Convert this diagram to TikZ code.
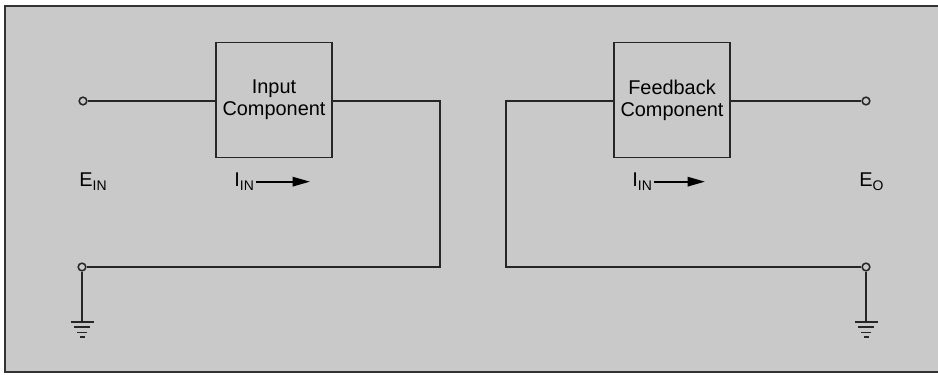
\documentclass[tikz,border=0pt]{standalone}
\usepackage{fontspec}
\setmainfont{Liberation Sans}
\usetikzlibrary{positioning,arrows.meta}
\definecolor{panel}{gray}{0.79}
\tikzset{
  wire/.style={line width=1.6pt, draw=black!85},
  component/.style={rectangle, draw=black!85, line width=1.6pt, minimum width=3.48cm, minimum height=3.45cm,
                    align=center, font=\fontsize{17}{19}\selectfont},
  terminal/.style={circle, draw=black!85, line width=1.3pt, fill=panel, minimum size=2.3mm, inner sep=0pt},
  txt/.style={font=\fontsize{17}{19}\selectfont, inner sep=1pt},
  current/.style={->, line width=1.6pt, >={Triangle[length=5.2mm, width=2.8mm]}},
}

\begin{document}
\begin{tikzpicture}[x=0.03cm, y=-0.03cm]
  \useasboundingbox (0,0) rectangle (938,375);
  \draw[line width=2pt, draw=black!80, fill=panel] (5,6) rectangle (948,372);

  % input side
  \node[component] (inbox) at (274,100) {Input\\Component};
  \node[terminal] (ein) at (83,101) {};
  \node[terminal] (ingnd) at (82,267) {};
  \coordinate (inturn) at (440,267);
  \node[txt, anchor=base west] (einlab) at (78,187) {E\textsubscript{IN}};
  \node[txt, anchor=base west] (iinlab) at (233,187) {I\textsubscript{IN}};
  \coordinate (iinend) at (310,183);

  % feedback side
  \node[component] (fbbox) at (672,100) {Feedback\\Component};
  \node[terminal] (eo) at (866,101) {};
  \node[terminal] (outgnd) at (866,267) {};
  \coordinate (fbturn) at (506,267);
  \node[txt, anchor=base west] (eolab) at (858,187) {E\textsubscript{O}};
  \node[txt, anchor=base west] (ifblab) at (631,187) {I\textsubscript{IN}};
  \coordinate (ifbend) at (705,183);

  \draw[wire] (ein) -- (ein -| inbox.west);
  \draw[wire] (ein -| inbox.east) -| (inturn) -- (ingnd);
  \draw[wire] (eo -| fbbox.west) -| (fbturn) -- (outgnd);
  \draw[wire] (eo -| fbbox.east) -- (eo);

  \draw[current] (iinlab.east) -- (iinlab.east -| iinend);
  \draw[current] (ifblab.east) -- (ifblab.east -| ifbend);

  % grounds
  \foreach \g in {ingnd, outgnd} {
    \draw[wire] (\g) -- ++(0,55) coordinate (\g bar);
    \draw[wire] ([xshift=-11.5*0.03cm]\g bar) -- ++(23,0);
    \draw[wire] ([xshift=-8*0.03cm, yshift=-5*0.03cm]\g bar) -- ++(16,0);
    \draw[wire] ([xshift=-5*0.03cm, yshift=-10.5*0.03cm]\g bar) -- ++(10,0);
    \draw[wire] ([xshift=-2.5*0.03cm, yshift=-15*0.03cm]\g bar) -- ++(5,0);
  }
\end{tikzpicture}
\end{document}
